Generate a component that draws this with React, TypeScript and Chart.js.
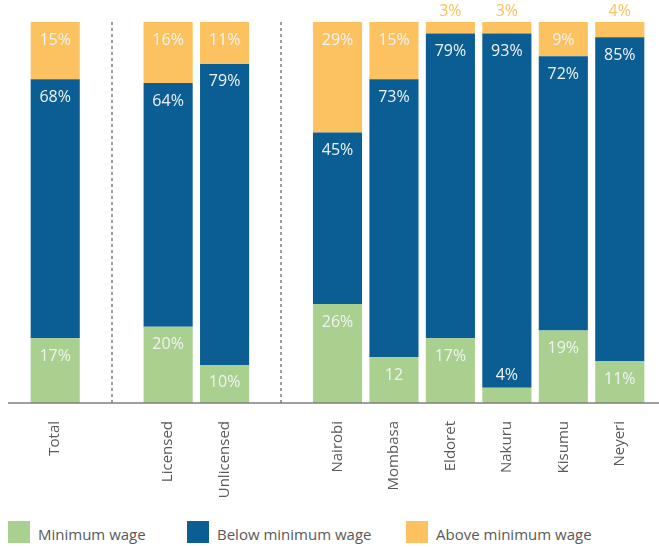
import React, { useEffect, useRef } from "react";
import { Chart, registerables } from "chart.js";

Chart.register(...registerables);

const categories = ["Total", "", "Licensed", "Unlicensed", "", "Nairobi", "Mombasa", "Eldoret", "Nakuru", "Kisumu", "Neyeri"];
const minimumWage = [17, null, 20, 10, null, 26, 12, 17, 4, 19, 11];
const belowMinimum = [68, null, 64, 79, null, 45, 73, 80, 93, 72, 85];
const aboveMinimum = [15, null, 16, 11, null, 29, 15, 3, 3, 9, 4];
const minimumLabels = ["17%", "", "20%", "10%", "", "26%", "12", "17%", "4%", "19%", "11%"];
const belowLabels = ["68%", "", "64%", "79%", "", "45%", "73%", "79%", "93%", "72%", "85%"];
const aboveLabels = ["15%", "", "16%", "11%", "", "29%", "15%", "3%", "3%", "9%", "4%"];
const separatorIndexes = [1, 4];
const seriesNames = ["Minimum wage", "Below minimum wage", "Above minimum wage"];

const GREEN = "#a9d08e";
const BLUE = "#0b5e93";
const YELLOW = "#fbc25f";
const colors = [GREEN, BLUE, YELLOW];
const FONT = "'Open Sans', sans-serif";

const overlayPlugin = {
  id: "overlay",
  afterDraw(chart: any) {
    const ctx = chart.ctx;
    const { chartArea, scales } = chart;
    const xs = scales.x;
    const ys = scales.y;
    ctx.save();
    // separators
    ctx.strokeStyle = "#7f7f7f";
    ctx.lineWidth = 1.5;
    ctx.setLineDash([3, 3]);
    separatorIndexes.forEach((i) => {
      const px = Math.round(xs.getPixelForValue(i));
      ctx.beginPath();
      ctx.moveTo(px, chartArea.top);
      ctx.lineTo(px, chartArea.bottom);
      ctx.stroke();
    });
    ctx.setLineDash([]);
    // baseline
    const y0 = ys.getPixelForValue(0);
    ctx.strokeStyle = "#7f7f7f";
    ctx.lineWidth = 1.5;
    ctx.beginPath();
    ctx.moveTo(8, y0);
    ctx.lineTo(chart.width, y0);
    ctx.stroke();
    // value labels
    ctx.font = `16px ${FONT}`;
    ctx.textAlign = "center";
    ctx.textBaseline = "middle";
    const labelSets = [minimumLabels, belowLabels, aboveLabels];
    chart.data.datasets.forEach((ds: any, di: number) => {
      const meta = chart.getDatasetMeta(di);
      meta.data.forEach((el: any, i: number) => {
        const v = ds.data[i];
        if (v == null) return;
        const text = labelSets[di][i];
        const top = el.y;
        if (v >= 5) {
          ctx.fillStyle = "#f0f3f6";
          ctx.fillText(text, el.x, top + 18);
        } else if (di === 2) {
          ctx.fillStyle = YELLOW;
          ctx.fillText(text, el.x, top - 11);
        } else {
          ctx.fillStyle = "#f0f3f6";
          ctx.fillText(text, el.x, top - 12);
        }
      });
    });
    ctx.restore();
  },
};

export default function App() {
  const ref = useRef<HTMLCanvasElement | null>(null);

  useEffect(() => {
    if (!ref.current) return;
    const chart = new Chart(ref.current, {
      type: "bar",
      data: {
        labels: categories,
        datasets: [
          { label: seriesNames[0], data: minimumWage, backgroundColor: GREEN, clip: false },
          { label: seriesNames[1], data: belowMinimum, backgroundColor: BLUE, clip: false },
          { label: seriesNames[2], data: aboveMinimum, backgroundColor: YELLOW, clip: false },
        ],
      },
      options: {
        animation: false,
        responsive: false,
        devicePixelRatio: 1,
        barPercentage: 0.87,
        categoryPercentage: 1,
        layout: { padding: { left: 27, right: 11, top: 22, bottom: 0 } },
        plugins: { legend: { display: false }, tooltip: { enabled: false } },
        scales: {
          x: {
            stacked: true,
            grid: { display: false },
            border: { display: false },
            ticks: {
              minRotation: 90,
              maxRotation: 90,
              autoSkip: false,
              padding: 10,
              color: "#595959",
              font: { family: FONT, size: 15 },
            },
            afterFit: (s: any) => {
              s.height = 105;
            },
          },
          y: { stacked: true, min: 0, max: 100, display: false },
        },
      } as any,
      plugins: [overlayPlugin],
    });
    return () => chart.destroy();
  }, []);

  const widths = [179, 219, undefined];
  return (
    <div style={{ width: 659, position: "absolute", left: 0, top: 0 }}>
      <canvas ref={ref} width={659} height={508} style={{ display: "block", width: 659, height: 508 }} />
      <div
        style={{
          display: "flex",
          alignItems: "center",
          marginTop: 12,
          paddingLeft: 8,
          fontFamily: FONT,
          fontSize: 15,
          color: "#595959",
        }}
      >
        {seriesNames.map((name, i) => (
          <div key={name} style={{ width: widths[i], display: "flex", alignItems: "center", flexShrink: 0 }}>
            <span style={{ width: 22, height: 22, background: colors[i], marginRight: 8, display: "inline-block" }} />
            <span style={{ paddingTop: 4 }}>{name}</span>
          </div>
        ))}
      </div>
    </div>
  );
}
